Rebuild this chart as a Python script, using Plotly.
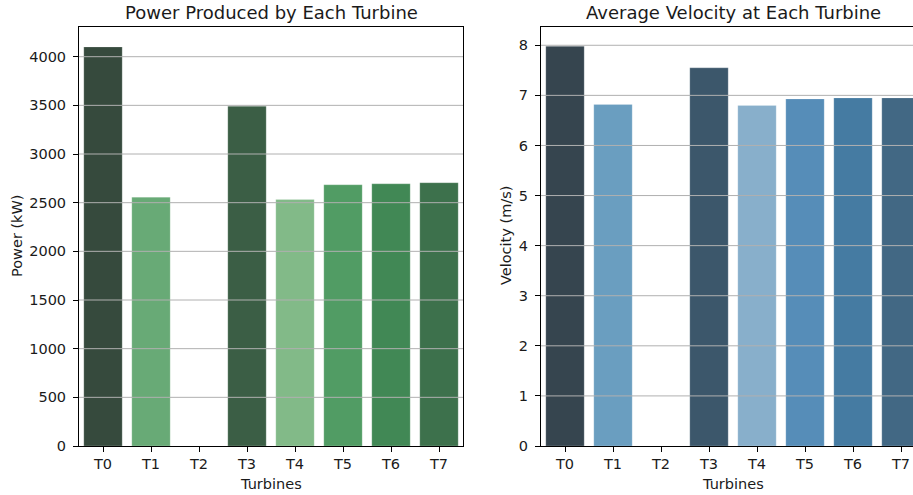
import plotly.graph_objects as go

turbines = ["T0", "T1", "T2", "T3", "T4", "T5", "T6", "T7"]
power_kw = [4100, 2557, 0, 3492, 2533, 2684, 2694, 2705]
velocity_ms = [7.98, 6.82, 0, 7.55, 6.80, 6.93, 6.95, 6.95]
power_colors = ["#364a3d", "#68aa76", "#5f9f6e", "#3b5e45", "#82ba88", "#519c64", "#418855", "#3d714c"]
velocity_colors = ["#36454f", "#6a9ec0", "#5a8fb5", "#3c576b", "#88afcb", "#568db8", "#457ba2", "#426884"]
power_ticks = [0, 500, 1000, 1500, 2000, 2500, 3000, 3500, 4000]
velocity_ticks = [0, 1, 2, 3, 4, 5, 6, 7, 8]

W, H = 913, 495
FONT = "DejaVu Sans"
TXT = "#1a1a1a"
TS = 14.5

fig = go.Figure()
fig.add_trace(go.Bar(x=turbines, y=power_kw, marker=dict(color=power_colors, line=dict(width=0.6, color="rgba(255,255,255,0.35)")),
                     xaxis="x", yaxis="y", showlegend=False))
fig.add_trace(go.Bar(x=turbines, y=velocity_ms, marker=dict(color=velocity_colors, line=dict(width=0.6, color="rgba(255,255,255,0.35)")),
                     xaxis="x2", yaxis="y2", showlegend=False))

yb, yt = (H - 446) / H, (H - 27) / H
d1 = [79 / W, 463 / W]
d2 = [541 / W, 1.0]

common_x = dict(type="category", showline=True, linecolor="#000", linewidth=1,
                ticks="outside", ticklen=5, tickwidth=1, tickcolor="#000", automargin=False,
                tickfont=dict(family=FONT, size=TS, color=TXT), showgrid=False, zeroline=False)
common_y = dict(showline=True, linecolor="#000", linewidth=1, automargin=False,
                ticks="outside", ticklen=5, tickwidth=1, tickcolor="#000", ticklabelstandoff=4,
                tickfont=dict(family=FONT, size=TS, color=TXT), showgrid=False, zeroline=False)

fig.update_layout(
    width=W, height=H, margin=dict(l=0, r=0, t=0, b=0),
    paper_bgcolor="white", plot_bgcolor="white", bargap=0.2,
    xaxis=dict(**common_x, domain=d1, anchor="y", range=[-0.5, 7.5], mirror=True),
    yaxis=dict(**common_y, domain=[yb, yt], anchor="x", range=[0, 4305], tickvals=power_ticks, mirror=True),
    xaxis2=dict(**common_x, domain=d2, anchor="y2", range=[-0.5, 7.25], mirror=True),
    yaxis2=dict(**common_y, domain=[yb, yt], anchor="x2", range=[0, 8.365], tickvals=velocity_ticks),
)

shapes = []
for v in power_ticks[1:]:
    shapes.append(dict(type="line", xref="x domain", yref="y", x0=0, x1=1, y0=v, y1=v,
                       line=dict(color="#b0b0b0", width=1), layer="above"))
for v in velocity_ticks[1:]:
    shapes.append(dict(type="line", xref="x2 domain", yref="y2", x0=0, x1=1, y0=v, y1=v,
                       line=dict(color="#b0b0b0", width=1), layer="above"))
fig.update_layout(shapes=shapes)

def ann(text, x, y, size, angle=0):
    fig.add_annotation(text=text, xref="paper", yref="paper", x=x / W, y=(H - y) / H,
                       showarrow=False, xanchor="center", yanchor="middle", textangle=angle,
                       font=dict(family=FONT, size=size, color=TXT))

ann("Power Produced by Each Turbine", 271, 12, 18)
ann("Average Velocity at Each Turbine", 733, 12, 18)
ann("Turbines", 271, 484, TS)
ann("Turbines", 733, 484, TS)
ann("Power (kW)", 17, 236, TS, -90)
ann("Velocity (m/s)", 506, 236, TS, -90)

fig.write_html("out.html", config={"displayModeBar": False},
               post_script="document.body.style.margin='0';document.body.style.overflow='hidden';")
